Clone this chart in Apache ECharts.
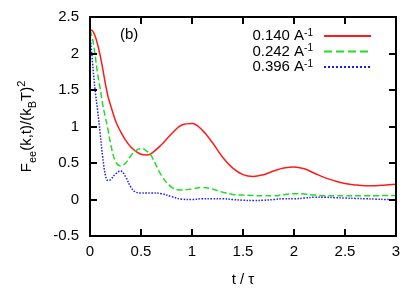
<!DOCTYPE html>
<html><head><meta charset="utf-8">
<script src="https://cdn.jsdelivr.net/npm/echarts@6/dist/echarts.min.js"></script>
<style>html,body{margin:0;padding:0;background:#fff}#c{width:409px;height:292px}</style>
</head><body><div id="c"></div>
<script>
var times = [0, 0.025, 0.05, 0.075, 0.1, 0.125, 0.15, 0.175, 0.2, 0.25, 0.3, 0.35, 0.4, 0.45, 0.5, 0.55, 0.6, 0.7, 0.8, 0.9, 1.0, 1.1, 1.2, 1.3, 1.4, 1.5, 1.6, 1.7, 1.8, 1.9, 2.0, 2.1, 2.2, 2.3, 2.4, 2.5, 2.6, 2.7, 2.8, 2.9, 3.0];
var k140 = [2.33, 2.31, 2.24, 2.12, 1.97, 1.79, 1.59, 1.42, 1.30, 1.08, 0.93, 0.81, 0.72, 0.66, 0.62, 0.61, 0.63, 0.75, 0.90, 1.02, 1.04, 0.95, 0.78, 0.58, 0.43, 0.34, 0.315, 0.34, 0.39, 0.43, 0.445, 0.42, 0.36, 0.30, 0.255, 0.22, 0.20, 0.19, 0.19, 0.20, 0.21];
var k242 = [2.32, 2.20, 1.98, 1.72, 1.52, 1.30, 1.13, 0.97, 0.78, 0.52, 0.46, 0.50, 0.60, 0.67, 0.70, 0.67, 0.60, 0.33, 0.17, 0.13, 0.145, 0.165, 0.145, 0.10, 0.07, 0.06, 0.055, 0.05, 0.05, 0.065, 0.08, 0.075, 0.06, 0.05, 0.05, 0.05, 0.05, 0.05, 0.05, 0.055, 0.055];
var k396 = [2.27, 1.87, 1.50, 1.22, 0.90, 0.58, 0.34, 0.26, 0.27, 0.35, 0.39, 0.31, 0.17, 0.10, 0.09, 0.09, 0.09, 0.08, 0.04, 0.005, 0.0, 0.01, 0.01, 0.01, 0.0, -0.01, -0.015, -0.01, 0.0, 0.01, 0.01, 0.02, 0.03, 0.03, 0.025, 0.02, 0.015, 0.01, 0.005, 0.0, -0.005];
var seriesNames = ['0.140', '0.242', '0.396'];
var xTicks = [0, 0.5, 1, 1.5, 2, 2.5, 3];
var yTicks = [-0.5, 0, 0.5, 1, 1.5, 2, 2.5];

function pairs(v){ return times.map(function(t,i){ return [t, v[i]]; }); }
var font = 'Liberation Sans, Arial, sans-serif';
var chart = echarts.init(document.getElementById('c'));
var fmtX = function(v){ return String(v); };
function mkAxis(extra){
  var a = {
    type:'value', zlevel:2, z:10,
    axisLine:{show:true, onZero:false, lineStyle:{color:'#000', width:2}},
    axisTick:{show:true, inside:true, length:7, lineStyle:{color:'#000', width:2}},
    splitLine:{show:false}
  };
  for (var k in extra) a[k] = extra[k];
  return a;
}
chart.setOption({
  animation:false,
  grid:{left:90, right:13, top:17, bottom:53, show:true, borderColor:'#000', borderWidth:2, zlevel:2, z:10},
  xAxis:[
    mkAxis({min:xTicks[0], max:xTicks[xTicks.length-1], interval:0.5, position:'bottom',
      name:'t / τ', nameLocation:'middle', nameGap:36,
      nameTextStyle:{fontFamily:font, fontSize:15, color:'#000'},
      axisLabel:{fontFamily:font, fontSize:15, color:'#000', margin:8, formatter:fmtX}}),
    mkAxis({min:xTicks[0], max:xTicks[xTicks.length-1], interval:0.5, position:'top',
      axisLabel:{show:false}})
  ],
  yAxis:[
    mkAxis({min:yTicks[0], max:yTicks[yTicks.length-1], interval:0.5, position:'left',
      name:'{n|F}{sub|ee}{n|(k,t)/(k}{sub|B}{n|T)}{sup|2}', nameLocation:'middle', nameGap:52,
      nameTextStyle:{fontFamily:font, fontSize:15, color:'#000',
        rich:{
          n:{fontFamily:font, fontSize:15, color:'#000', verticalAlign:'middle', lineHeight:22},
          sub:{fontFamily:font, fontSize:11, color:'#000', verticalAlign:'bottom', lineHeight:22},
          sup:{fontFamily:font, fontSize:11, color:'#000', verticalAlign:'top', lineHeight:22}
        }},
      axisLabel:{fontFamily:font, fontSize:15, color:'#000', margin:11, formatter:fmtX}}),
    mkAxis({min:yTicks[0], max:yTicks[yTicks.length-1], interval:0.5, position:'right',
      axisLabel:{show:false}})
  ],
  legend:{
    zlevel:1,
    orient:'vertical', right:32, top:23, align:'right', itemGap:0,
    itemWidth:47, itemHeight:14,
    data:seriesNames,
    itemStyle:{opacity:0},
    formatter:function(n){ return '{t|' + n + ' A}{s|-1}'; },
    textStyle:{fontFamily:font, fontSize:15, color:'#000', padding:[0,6,0,0],
      rich:{t:{fontFamily:font, fontSize:15, color:'#000', verticalAlign:'middle', lineHeight:16},
            s:{fontFamily:font, fontSize:10, color:'#000', verticalAlign:'top', lineHeight:16}}}
  },
  graphic:[{type:'text', left:120, top:27, style:{text:'(b)', font:'15px ' + font, fill:'#000'}}],
  series:[
    {name:seriesNames[0], type:'line', zlevel:1, data:pairs(k140), smooth:0.4, symbol:'none', showSymbol:false,
      lineStyle:{color:'#ff1a1a', width:1.5, type:'solid'}, itemStyle:{color:'#ff1a1a'}},
    {name:seriesNames[1], type:'line', zlevel:1, data:pairs(k242), smooth:0.4, symbol:'none', showSymbol:false,
      lineStyle:{color:'#22dd22', width:1.5, type:'dashed'}, itemStyle:{color:'#22dd22'}},
    {name:seriesNames[2], type:'line', zlevel:1, data:pairs(k396), smooth:0.4, symbol:'none', showSymbol:false,
      lineStyle:{color:'#1a1aff', width:1.5, type:'dotted'}, itemStyle:{color:'#1a1aff'}}
  ]
});
</script></body></html>
